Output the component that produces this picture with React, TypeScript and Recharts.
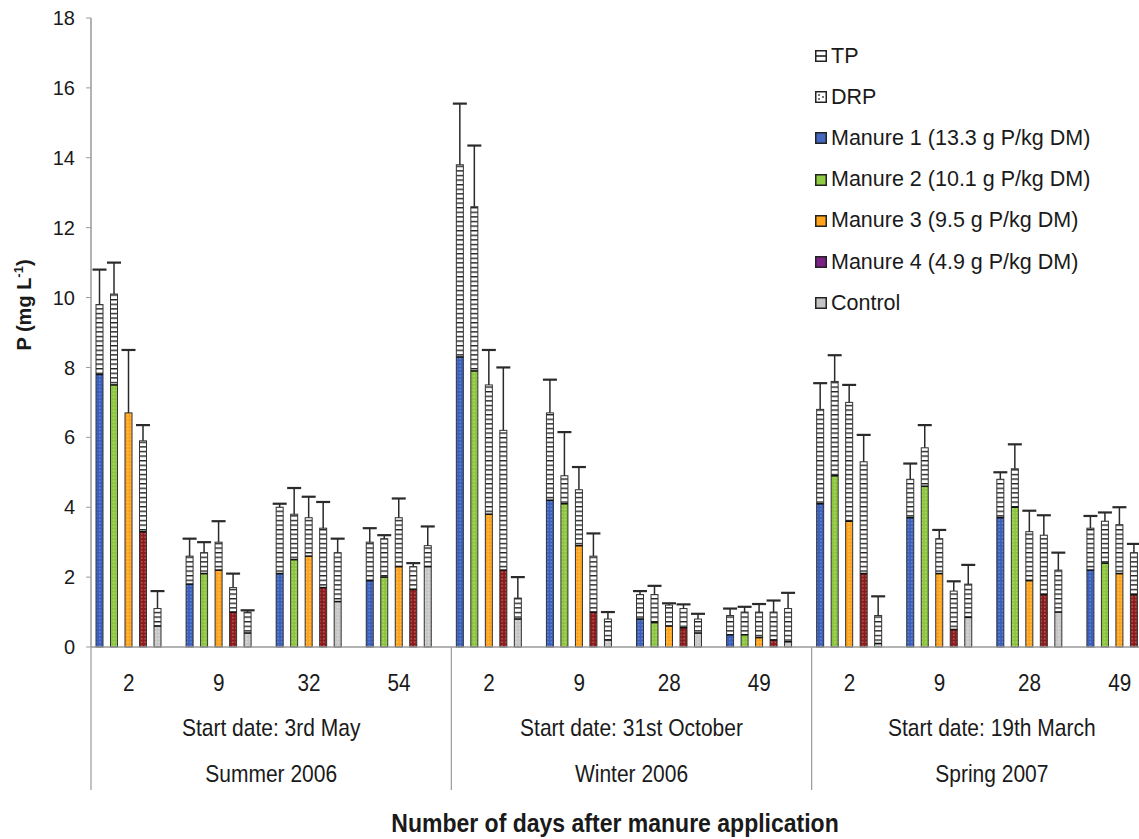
import { Bar, BarChart, Legend, XAxis, YAxis } from "recharts";

// Phosphorus in runoff (mg/L) after manure application, three seasons
const seasons = ["Summer 2006", "Winter 2006", "Spring 2007"];
const startDates = [
  "Start date: 3rd May",
  "Start date: 31st October",
  "Start date: 19th March",
];
const days = ["2", "9", "32", "54", "2", "9", "28", "49", "2", "9", "28", "49"];
const yTicks = [0, 2, 4, 6, 8, 10, 12, 14, 16, 18];

const m1Tp = [9.8, 2.6, 4.0, 3.0, 13.8, 6.7, 1.5, 0.9, 6.8, 4.8, 4.8, 3.4];
const m1Drp = [7.8, 1.8, 2.1, 1.9, 8.3, 4.2, 0.8, 0.35, 4.1, 3.7, 3.7, 2.2];
const m1Sd = [1.0, 0.5, 0.1, 0.4, 1.75, 0.95, 0.1, 0.2, 0.75, 0.45, 0.2, 0.35];

const m2Tp = [10.1, 2.7, 3.8, 3.1, 12.6, 4.9, 1.5, 1.0, 7.6, 5.7, 5.1, 3.6];
const m2Drp = [7.5, 2.1, 2.5, 2.0, 7.9, 4.1, 0.7, 0.35, 4.9, 4.6, 4.0, 2.4];
const m2Sd = [0.9, 0.3, 0.75, 0.1, 1.75, 1.25, 0.25, 0.15, 0.75, 0.65, 0.7, 0.25];

const m3Tp = [6.7, 3.0, 3.7, 3.7, 7.5, 4.5, 1.2, 1.0, 7.0, 3.1, 3.3, 3.5];
const m3Drp = [6.7, 2.2, 2.6, 2.3, 3.8, 2.9, 0.6, 0.27, 3.6, 2.1, 1.9, 2.1];
const m3Sd = [1.8, 0.6, 0.6, 0.55, 1.0, 0.65, 0.05, 0.23, 0.5, 0.25, 0.6, 0.5];

const m4Tp = [5.9, 1.7, 3.4, 2.3, 6.2, 2.6, 1.1, 1.0, 5.3, 1.6, 3.2, 2.7];
const m4Drp = [3.3, 1.0, 1.7, 1.65, 2.2, 1.0, 0.55, 0.2, 2.1, 0.5, 1.5, 1.5];
const m4Sd = [0.45, 0.4, 0.75, 0.1, 1.8, 0.65, 0.12, 0.33, 0.77, 0.28, 0.57, 0.25];

const ctlTp = [1.1, 1.0, 2.7, 2.9, 1.4, 0.8, 0.8, 1.1, 0.9, 1.8, 2.2, 2.6];
const ctlDrp = [0.6, 0.4, 1.3, 2.3, 0.8, 0.2, 0.4, 0.15, 0.1, 0.85, 1.0, 0.2];
const ctlSd = [0.5, 0.05, 0.4, 0.55, 0.6, 0.2, 0.15, 0.45, 0.55, 0.55, 0.5, 0.8];

const treatments = [
  { key: "m1", name: "Manure 1 (13.3 g P/kg DM)", tp: m1Tp, drp: m1Drp, sd: m1Sd, fill: "#3a5fbd", dot: "#9fb6e6", swatch: "#4468c0" },
  { key: "m2", name: "Manure 2 (10.1 g P/kg DM)", tp: m2Tp, drp: m2Drp, sd: m2Sd, fill: "#8cc63e", dot: "#d6efa6", swatch: "#8fcb45" },
  { key: "m3", name: "Manure 3 (9.5 g P/kg DM)", tp: m3Tp, drp: m3Drp, sd: m3Sd, fill: "#ffa31c", dot: "#ffe2a8", swatch: "#ffa31a" },
  { key: "m4", name: "Manure 4 (4.9 g P/kg DM)", tp: m4Tp, drp: m4Drp, sd: m4Sd, fill: "#8e1b1b", dot: "#e2a0a0", swatch: "#7c2286" },
  { key: "ctl", name: "Control", tp: ctlTp, drp: ctlDrp, sd: ctlSd, fill: "#c6c6c6", dot: "#f2f2f2", swatch: "#c4c4c4" },
];

const data = days.map((day, i) => {
  const row: Record<string, string | number> = {
    id: `${i}`,
    day,
    season: seasons[Math.floor(i / 4)],
  };
  treatments.forEach((t) => {
    row[t.key] = t.tp[i];
    row[t.key + "Drp"] = t.drp[i];
    row[t.key + "Sd"] = t.sd[i];
  });
  return row;
});

const SANS = "'Liberation Sans', Arial, sans-serif";
const AXIS = "#9a9a9a";
const INK = "#1a1a1a";

const BAR_W = 7;
const BAR_GAP = 7.5;
const DAY_AXIS_H = 60;
const SEASON_AXIS_H = 132;

// condensed lettering for the category axis (no narrow face installed)
const NarrowText = ({
  x,
  y,
  size,
  squeeze,
  bold,
  children,
}: {
  x: number;
  y: number;
  size: number;
  squeeze: number;
  bold?: boolean;
  children: React.ReactNode;
}) => (
  <text
    transform={`translate(${x},${y}) scale(${squeeze},1)`}
    textAnchor="middle"
    fontFamily={SANS}
    fontWeight={bold ? "bold" : "normal"}
    fontSize={size}
    fill={INK}
  >
    {children}
  </text>
);

// stacked look in one bar: DRP part at the bottom, rest of TP above, SD whisker on top
const makeShape = (t: (typeof treatments)[number]) => (p: any) => {
  const { x, y, width, height, payload } = p;
  const tp = payload[t.key] as number;
  const drp = payload[t.key + "Drp"] as number;
  const sd = payload[t.key + "Sd"] as number;
  if (!tp || !height) return <g />;
  const k = height / tp;
  const hDrp = Math.min(height, drp * k);
  const yDrp = y + height - hDrp;
  const yErr = y - sd * k;
  const cx = x + width / 2;
  return (
    <g>
      <rect x={x} y={y} width={width} height={height} fill="url(#ladder)" />
      <rect x={x} y={yDrp} width={width} height={hDrp} fill={`url(#dots-${t.key})`} />
      <rect x={x} y={y} width={width} height={height} fill="none" stroke="#333" strokeWidth={1} />
      {hDrp < height - 0.5 && (
        <line x1={x} x2={x + width} y1={yDrp} y2={yDrp} stroke="#111" strokeWidth={1.6} />
      )}
      <line x1={cx} x2={cx} y1={y} y2={yErr} stroke="#2a2a2a" strokeWidth={1.5} />
      <line x1={cx - 7} x2={cx + 7} y1={yErr} y2={yErr} stroke="#2a2a2a" strokeWidth={2.2} />
    </g>
  );
};

const DayTick = (props: any) => {
  const { x, y, index } = props;
  return (
    <NarrowText x={x - (BAR_W + BAR_GAP) / 2} y={y + 44} size={23} squeeze={0.9}>
      {days[index]}
    </NarrowText>
  );
};

const SeasonTick = (props: any) => {
  const { x, y, index, payload } = props;
  const half = payload?.offset || 180;
  const top = y - DAY_AXIS_H;
  return (
    <g>
      <line x1={x - half} x2={x - half} y1={top} y2={y + 83} stroke={AXIS} strokeWidth={1.2} />
      {index === seasons.length - 1 && (
        <line x1={x + half} x2={x + half} y1={top} y2={y + 83} stroke={AXIS} strokeWidth={1.2} />
      )}
      <NarrowText x={x} y={y + 28.5} size={24} squeeze={0.875}>
        {startDates[index]}
      </NarrowText>
      <NarrowText x={x} y={y + 74.5} size={24} squeeze={0.875}>
        {payload.value}
      </NarrowText>
    </g>
  );
};

const YTitle = () => (
  <text
    transform="translate(31,305) rotate(-90)"
    textAnchor="middle"
    fontFamily={SANS}
    fontWeight="bold"
    fontSize={20}
    fill={INK}
  >
    P (mg L
    <tspan dy={-8} fontSize={13}>
      -1
    </tspan>
    <tspan dy={8}>)</tspan>
  </text>
);

const XTitle = () => (
  <NarrowText x={615} y={832} size={26} squeeze={0.885} bold>
    Number of days after manure application
  </NarrowText>
);

const legendRows = [
  { name: "TP", kind: "tp", color: "#fff" },
  { name: "DRP", kind: "drp", color: "#fff" },
  ...treatments.map((t) => ({ name: t.name, kind: "solid", color: t.swatch })),
];

const LegendIcon = ({ kind, color }: { kind: string; color: string }) => (
  <svg width={12} height={12} style={{ display: "block" }}>
    <rect x={0.75} y={0.75} width={10.5} height={10.5} fill={color} stroke="#222" strokeWidth={1.5} />
    {kind === "tp" && <line x1={1} x2={11} y1={6} y2={6} stroke="#222" strokeWidth={1.6} />}
    {kind === "drp" && (
      <g fill="#777">
        <rect x={3} y={3} width={2} height={2} />
        <rect x={7} y={5} width={2} height={2} />
        <rect x={3} y={7} width={2} height={2} />
      </g>
    )}
  </svg>
);

const LegendBox = () => (
  <div style={{ fontFamily: SANS, fontSize: 21.5, color: INK }}>
    {legendRows.map((r) => (
      <div key={r.name} style={{ display: "flex", alignItems: "center", height: 41.2 }}>
        <LegendIcon kind={r.kind} color={r.color} />
        <span style={{ marginLeft: 4, whiteSpace: "nowrap" }}>{r.name}</span>
      </div>
    ))}
  </div>
);

export default function App() {
  return (
    <div
      style={{
        position: "fixed",
        left: 0,
        top: 0,
        width: 1139,
        height: 839,
        overflow: "hidden",
        background: "#fff",
      }}
    >
      <BarChart
        width={1200}
        height={839}
        data={data}
        margin={{ top: 18, right: 28, bottom: 0, left: 0 }}
        barSize={BAR_W}
        barGap={BAR_GAP}
      >
        <defs>
          <pattern id="ladder" width={10} height={4.6} patternUnits="userSpaceOnUse">
            <rect width={10} height={4.6} fill="#fff" />
            <rect width={10} height={1.4} fill="#222" />
          </pattern>
          {treatments.map((t) => (
            <pattern
              key={t.key}
              id={`dots-${t.key}`}
              width={3.5}
              height={3.5}
              patternUnits="userSpaceOnUse"
            >
              <rect width={3.5} height={3.5} fill={t.fill} />
              <rect x={1.2} y={1.2} width={1.1} height={1.1} fill={t.dot} />
            </pattern>
          ))}
        </defs>
        <XAxis
          dataKey="id"
          height={DAY_AXIS_H}
          interval={0}
          tickLine={false}
          tickSize={0}
          tickMargin={0}
          axisLine={{ stroke: AXIS, strokeWidth: 1.5 }}
          tick={<DayTick />}
        />
        <XAxis
          xAxisId="season"
          dataKey="season"
          allowDuplicatedCategory={false}
          height={SEASON_AXIS_H}
          interval={0}
          tickLine={false}
          tickSize={0}
          tickMargin={0}
          axisLine={false}
          tick={<SeasonTick />}
          label={{ content: <XTitle /> }}
        />
        <YAxis
          domain={[0, 18]}
          ticks={yTicks}
          width={91}
          tickSize={5}
          tickMargin={11}
          axisLine={{ stroke: AXIS, strokeWidth: 1.5 }}
          tickLine={{ stroke: AXIS }}
          tick={{ fontFamily: SANS, fontSize: 20, fill: INK }}
          label={{ content: <YTitle /> }}
        />
        <Legend
          layout="vertical"
          align="center"
          verticalAlign="middle"
          wrapperStyle={{ left: 815, top: 35.5, width: 320 }}
          content={<LegendBox />}
        />
        {treatments.map((t) => (
          <Bar
            key={t.key}
            dataKey={t.key}
            name={t.name}
            fill={t.fill}
            isAnimationActive={false}
            shape={makeShape(t)}
          />
        ))}
        {/* empty slot so each group sits to the left of its category */}
        <Bar dataKey="spare" legendType="none" fill="none" isAnimationActive={false} />
      </BarChart>
    </div>
  );
}
